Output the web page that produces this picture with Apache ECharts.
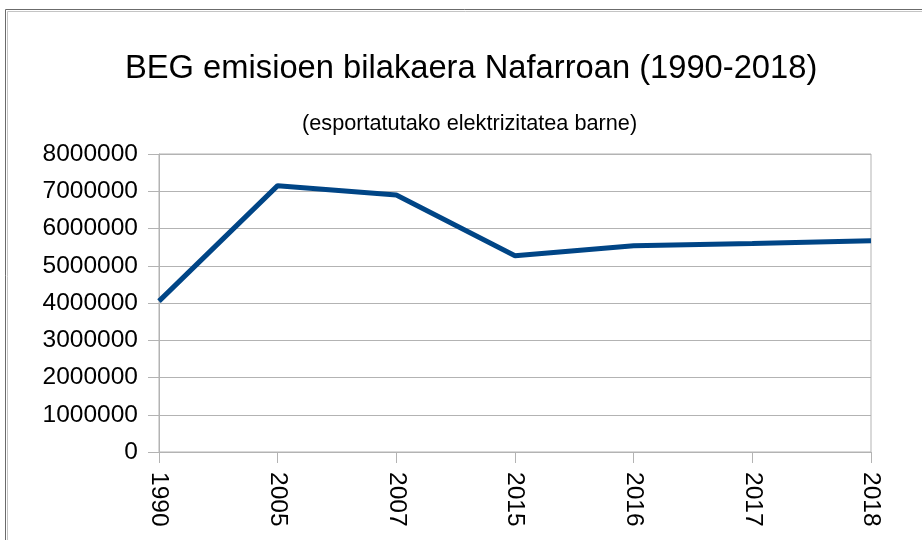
<!DOCTYPE html>
<html>
<head>
<meta charset="utf-8">
<script src="https://cdn.jsdelivr.net/npm/echarts@6/dist/echarts.min.js"></script>
<style>
  html, body { margin: 0; padding: 0; background: #fff; }
  #chart { width: 922px; height: 540px; }
</style>
</head>
<body>
<div id="chart"></div>
<script>
// Data.
const years = ["1990", "2005", "2007", "2015", "2016", "2017", "2018"];
const emissions = [4050000, 7150000, 6900000, 5270000, 5540000, 5600000, 5670000];
const yTicks = { min: 0, max: 8000000, interval: 1000000 };

const FONT = "Liberation Sans";
const GRID_GREY = "#b3b3b3";

const chart = echarts.init(document.getElementById("chart"), null, { renderer: "canvas" });

chart.setOption({
  animation: false,
  backgroundColor: "#fff",
  textStyle: { fontFamily: FONT, color: "#000" },
  // Double frame round the whole chart (runs off the right/bottom edge).
  graphic: [
    { type: "rect", shape: { x: 5.5, y: 9.5, width: 1000, height: 1000 },
      style: { fill: null, stroke: "#6b6b6b", lineWidth: 1 }, silent: true },
    { type: "rect", shape: { x: 7.5, y: 11.5, width: 1000, height: 1000 },
      style: { fill: null, stroke: "#c4c4c4", lineWidth: 1 }, silent: true },
  ],
  title: [
    {
      text: "BEG emisioen bilakaera Nafarroan (1990-2018)",
      left: 120,
      top: 47,
      textStyle: { fontFamily: FONT, fontSize: 32.7, fontWeight: "normal", color: "#000" },
    },
    {
      text: "(esportatutako elektrizitatea barne)",
      left: 297,
      top: 108,
      textStyle: { fontFamily: FONT, fontSize: 21.7, fontWeight: "normal", color: "#000" },
    },
  ],
  grid: {
    left: 159,
    right: 51,
    top: 154,
    bottom: 88,
    show: true,
    borderColor: GRID_GREY,
    borderWidth: 1,
    containLabel: false,
  },
  xAxis: {
    type: "category",
    data: years,
    boundaryGap: false,
    axisLine: { lineStyle: { color: GRID_GREY } },
    axisTick: { show: true, length: 11, lineStyle: { color: GRID_GREY } },
    axisLabel: {
      rotate: -90,
      margin: 20,
      fontFamily: FONT,
      fontSize: 24.5,
      color: "#000",
      interval: 0,
    },
    splitLine: { show: false },
  },
  yAxis: {
    type: "value",
    min: yTicks.min,
    max: yTicks.max,
    interval: yTicks.interval,
    axisLine: { show: true, lineStyle: { color: GRID_GREY } },
    axisTick: { show: true, length: 11, lineStyle: { color: GRID_GREY } },
    axisLabel: {
      margin: 21,
      fontFamily: FONT,
      fontSize: 24.5,
      color: "#000",
      formatter: (v) => String(v),
    },
    splitLine: { show: true, lineStyle: { color: GRID_GREY, width: 1 } },
  },
  series: [
    {
      type: "line",
      data: emissions,
      showSymbol: false,
      symbol: "none",
      lineStyle: { color: "#004586", width: 5 },
      itemStyle: { color: "#004586" },
    },
  ],
});
</script>
</body>
</html>
